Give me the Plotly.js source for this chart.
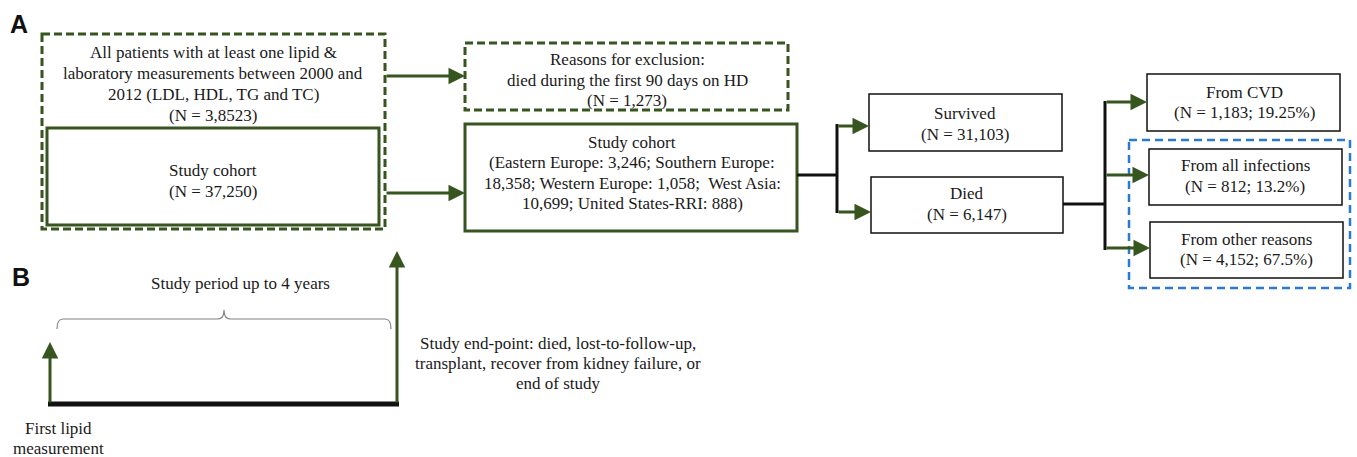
<!DOCTYPE html>
<html>
<head>
<meta charset="utf-8">
<script src="https://cdn.plot.ly/plotly-3.0.1.min.js"></script>
<style>html,body{margin:0;padding:0;background:#fff;}#chart{width:1357px;height:457px;}</style>
</head>
<body>
<div id="chart"></div>
<script>
// ---------- data (texts and counts) ----------
const panelLabels = ['A', 'B'];
const sourceLines = ['All patients with at least one lipid &amp;', 'laboratory measurements between 2000 and', '2012 (LDL, HDL, TG and TC)'];
const sourceN = '3,8523';
const cohortTitle = 'Study cohort';
const cohortN = '37,250';
const exclusionLines = ['Reasons for exclusion:', 'died during the first 90 days on HD'];
const exclusionN = '1,273';
const regions = ['Eastern Europe', 'Southern Europe', 'Western Europe', 'West Asia', 'United States-RRI'];
const regionN = ['3,246', '18,358', '1,058', '10,699', '888'];
const outcomes = ['Survived', 'Died'];
const outcomeN = ['31,103', '6,147'];
const causes = ['From CVD', 'From all infections', 'From other reasons'];
const causeN = ['1,183', '812', '4,152'];
const causePct = ['19.25%', '13.2%', '67.5%'];
const periodLabel = 'Study period up to 4 years';
const endpointLines = ['Study end-point: died, lost-to-follow-up,', 'transplant, recover from kidney failure, or', 'end of study'];
const startLines = ['First lipid', 'measurement'];

// ---------- layout geometry (pixel-like coordinates) ----------
const GREEN = '#37551e';
const BLACK = '#111111';
const BLUE = '#2a7ad2';
const FONT = 'Liberation Serif, Times New Roman, serif';
const FS = 17;
const LH = 20.8;

const shapes = [];
const annotations = [];

function rect(x0, y0, x1, y1, color, width, dash) {
  shapes.push({type: 'rect', xref: 'x', yref: 'y', x0: x0, y0: y0, x1: x1, y1: y1,
    line: {color: color, width: width, dash: dash || 'solid'}, fillcolor: 'rgba(0,0,0,0)'});
}
function seg(x0, y0, x1, y1, color, width) {
  shapes.push({type: 'line', xref: 'x', yref: 'y', x0: x0, y0: y0, x1: x1, y1: y1,
    line: {color: color, width: width}});
}
function arrow(tx, ty, hx, hy) {
  annotations.push({x: hx, y: hy, ax: tx, ay: ty, xref: 'x', yref: 'y', axref: 'x', ayref: 'y',
    text: '', showarrow: true, arrowhead: 2, arrowsize: 1.1, arrowwidth: 3, arrowcolor: GREEN, standoff: 0});
}
// each line placed separately so the line spacing matches the figure
function label(x, yc, lines, lh) {
  const step = lh || LH;
  const y0 = yc - step * (lines.length - 1) / 2;
  lines.forEach((t, i) => annotations.push({x: x, y: y0 + i * step, xref: 'x', yref: 'y', text: t,
    showarrow: false, xanchor: 'center', yanchor: 'middle', align: 'center',
    font: {family: FONT, size: FS, color: '#1a1a1a'}}));
}
function panel(x, y, t) {
  annotations.push({x: x, y: y, xref: 'x', yref: 'y', text: '<b>' + t + '</b>', showarrow: false,
    xanchor: 'center', yanchor: 'middle', font: {family: 'Liberation Sans, Arial, sans-serif', size: 25, color: '#111'}});
}

// Panel A boxes
rect(42, 34, 385, 229, GREEN, 3, '8px,4px');
rect(47, 128, 379, 225, GREEN, 3);
rect(465, 43, 788, 110, GREEN, 3, '8px,4px');
rect(465, 124, 797, 231, GREEN, 3);
const outcomeBoxes = [[869, 94, 1062, 151], [871, 177, 1063, 233]];
outcomeBoxes.forEach(b => rect(b[0], b[1], b[2], b[3], BLACK, 1.5));
const causeBoxes = [[1147, 74, 1340, 131], [1149, 149, 1342, 205], [1150, 222, 1343, 278]];
causeBoxes.forEach(b => rect(b[0], b[1], b[2], b[3], BLACK, 1.5));
rect(1129, 140, 1350, 288, BLUE, 2.5, '8px,5px');

// connectors
seg(797, 175, 837, 175, BLACK, 3);
seg(837, 124, 837, 213, BLACK, 3);
seg(1063, 204, 1105, 204, BLACK, 3);
seg(1105, 101, 1105, 250, BLACK, 3);
arrow(385, 76, 465, 76);
arrow(385, 193, 465, 193);
arrow(837, 126, 869, 126);
arrow(837, 212, 871, 212);
arrow(1105, 102, 1147, 102);
arrow(1105, 175, 1149, 175);
arrow(1105, 248, 1150, 248);

// Panel B
seg(48, 404, 399, 404, BLACK, 5);
arrow(50, 404, 50, 342);
arrow(397, 404, 397, 251);
shapes.push({type: 'path', xref: 'x', yref: 'y',
  path: 'M57,329 Q57,319 63,319 L218,319 Q224,319 224,310 Q224,319 230,319 L385,319 Q391,319 391,329',
  line: {color: '#808080', width: 1.2}});

// texts
panel(19, 24, panelLabels[0]);
panel(21, 277, panelLabels[1]);
label(213, 84, sourceLines.concat(['(N = ' + sourceN + ')']));
label(213, 181, [cohortTitle, '(N = ' + cohortN + ')'], 21.5);
label(627, 80, exclusionLines.concat(['(N = ' + exclusionN + ')']));
const regionText = regions.map((r, i) => r + ': ' + regionN[i]);
label(632, 173, [cohortTitle,
  '(' + regionText[0] + '; ' + regions[1] + ':',
  regionN[1] + '; ' + regionText[2] + ';\u00a0 ' + regions[3] + ':',
  regionN[3] + '; ' + regionText[4] + ')'], 20.4);
const outcomeCenters = [[965, 124], [967, 204]];
outcomes.forEach((o, i) => label(outcomeCenters[i][0], outcomeCenters[i][1], [o, '(N = ' + outcomeN[i] + ')'], 21.5));
const causeCenters = [[1244, 102.5], [1245, 176], [1246, 249.5]];
causes.forEach((c, i) => label(causeCenters[i][0], causeCenters[i][1], [c, '(N = ' + causeN[i] + '; ' + causePct[i] + ')'], 20.5));
label(240, 283, [periodLabel]);
label(558, 363, endpointLines, 20);
label(58, 438, startLines, 20);

const layout = {
  width: 1357, height: 457,
  margin: {l: 0, r: 0, t: 0, b: 0},
  paper_bgcolor: '#ffffff', plot_bgcolor: '#ffffff',
  showlegend: false,
  xaxis: {range: [0, 1357], visible: false, fixedrange: true},
  yaxis: {range: [457, 0], visible: false, fixedrange: true},
  shapes: shapes,
  annotations: annotations
};
Plotly.newPlot('chart', [], layout, {displayModeBar: false, staticPlot: true});
</script>
</body>
</html>
